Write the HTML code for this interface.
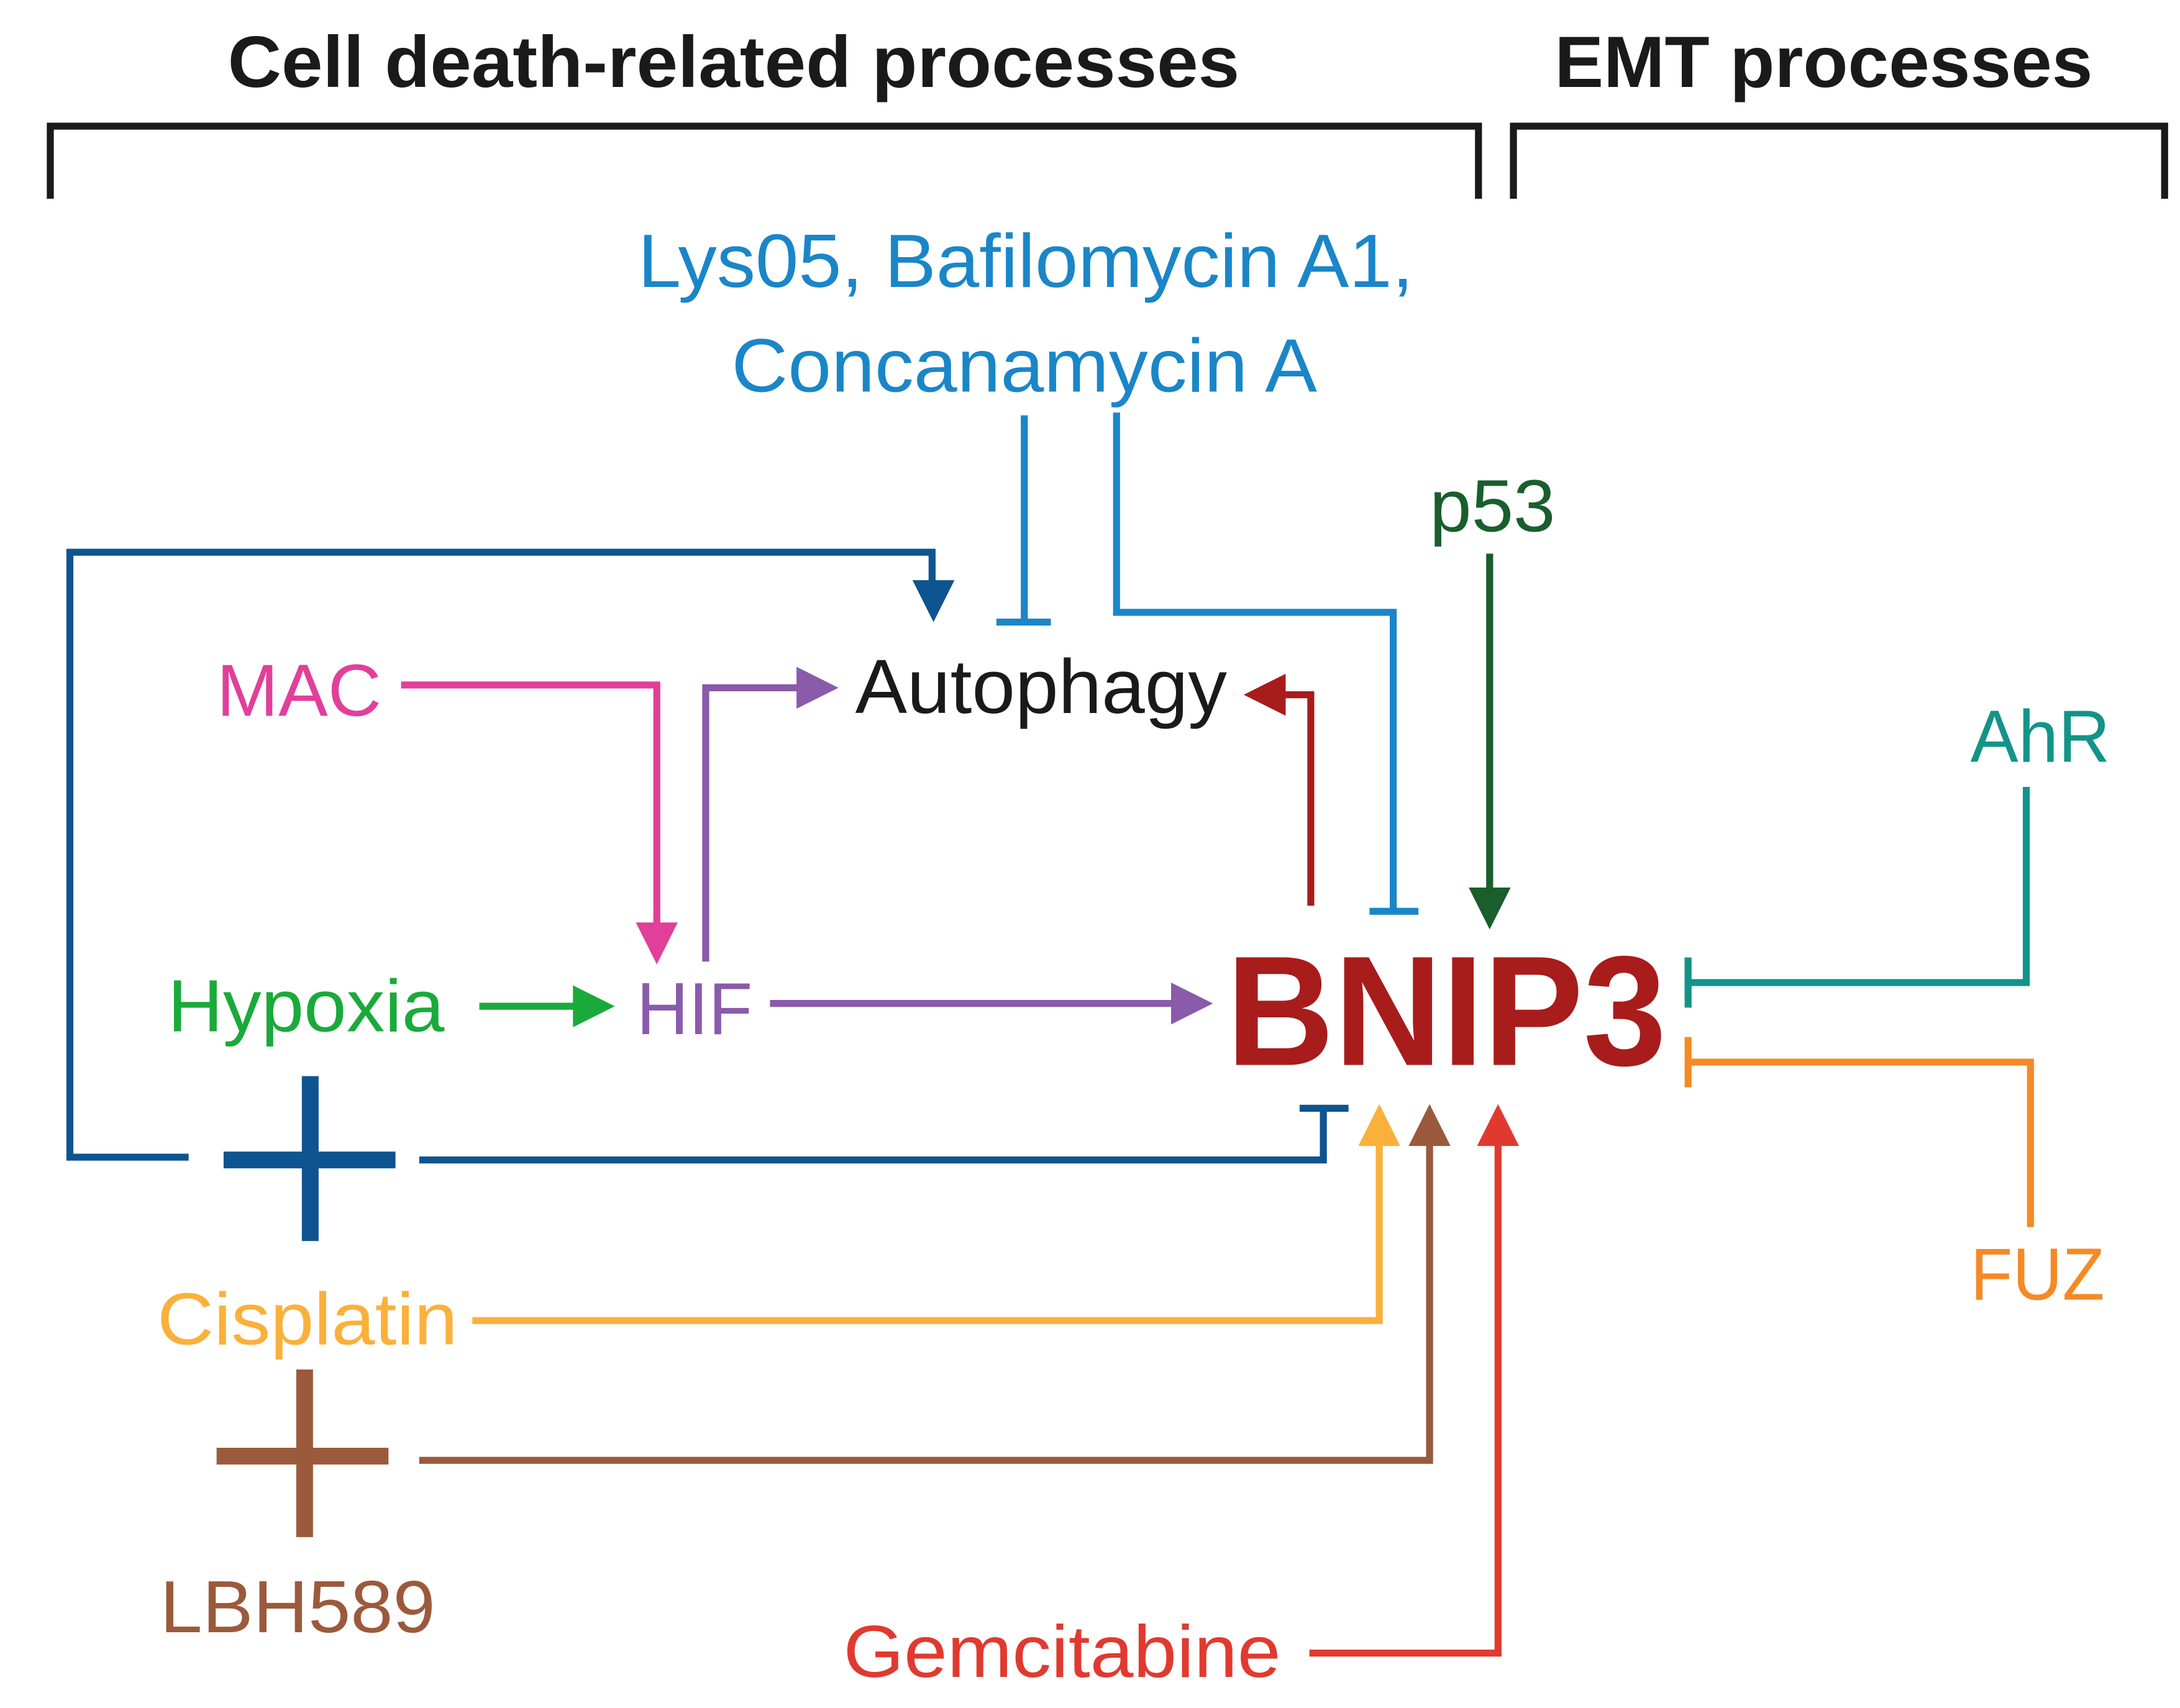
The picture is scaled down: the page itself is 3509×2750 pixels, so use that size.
<!DOCTYPE html>
<html><head><meta charset="utf-8"><style>
html,body{margin:0;padding:0;background:#fff;}
svg{display:block;}
text{font-family:"Liberation Sans",sans-serif;}
</style></head><body>
<svg width="3509" height="2750" viewBox="0 0 1560 1222" xmlns="http://www.w3.org/2000/svg">
<rect width="1560" height="1222" fill="#fff"/>
<g fill="none" stroke-linejoin="miter">
<path d="M36 142 V90 H1058 V142" stroke="#1a1a1a" stroke-width="5"/>
<path d="M1083 142 V90 H1549 V142" stroke="#1a1a1a" stroke-width="5"/>
<path d="M733 297 V445 M713 445 H752" stroke="#1a86c8" stroke-width="5"/>
<path d="M799 295 V438 H997 V652 M980 652 H1015" stroke="#1a86c8" stroke-width="5"/>
<path d="M1066 396 V640" stroke="#1a5e2e" stroke-width="5"/>
<path d="M135 828 H50 V395 H667 V420" stroke="#0e5490" stroke-width="5"/>
<path d="M222 770 V888 M160 830 H283" stroke="#0e5490" stroke-width="12"/>
<path d="M300 830 H947 V793 M930 793 H965" stroke="#0e5490" stroke-width="5"/>
<path d="M287 490 H470 V665" stroke="#e0409a" stroke-width="5"/>
<path d="M505 688 V492 H575" stroke="#8a5aab" stroke-width="5"/>
<path d="M551 718 H842" stroke="#8a5aab" stroke-width="5"/>
<path d="M343 720 H415" stroke="#1aaa3a" stroke-width="5"/>
<path d="M938 648 V497 H915" stroke="#a81c1c" stroke-width="5"/>
<path d="M1450 563 V703 H1208 M1208 685 V721" stroke="#139488" stroke-width="5"/>
<path d="M1453 878 V760 H1208 M1208 742 V778" stroke="#f58a25" stroke-width="5"/>
<path d="M338 945 H987 V815" stroke="#fbb03b" stroke-width="5"/>
<path d="M218 980 V1100 M155 1042 H278" stroke="#9b5a3c" stroke-width="12"/>
<path d="M300 1045 H1023 V815" stroke="#9b5a3c" stroke-width="5"/>
<path d="M937 1183 H1072 V815" stroke="#e03a30" stroke-width="5"/>
</g>
<polygon points="653,415 683,415 668,445" fill="#0e5490"/>
<polygon points="1051,635 1081,635 1066,665" fill="#1a5e2e"/>
<polygon points="455,660 485,660 470,690" fill="#e0409a"/>
<polygon points="570,477 570,507 600,492" fill="#8a5aab"/>
<polygon points="838,703 838,733 868,718" fill="#8a5aab"/>
<polygon points="410,705 410,735 440,720" fill="#1aaa3a"/>
<polygon points="920,482 920,512 890,497" fill="#a81c1c"/>
<polygon points="972,820 1002,820 987,790" fill="#fbb03b"/>
<polygon points="1008,820 1038,820 1023,790" fill="#9b5a3c"/>
<polygon points="1057,820 1087,820 1072,790" fill="#e03a30"/>
<g text-anchor="middle" lengthAdjust="spacingAndGlyphs">
<text x="525" y="62" font-size="52" font-weight="bold" fill="#1a1a1a" textLength="724" lengthAdjust="spacingAndGlyphs">Cell death-related processes</text>
<text x="1305" y="62" font-size="52" font-weight="bold" fill="#1a1a1a" textLength="385" lengthAdjust="spacingAndGlyphs">EMT processes</text>
<text x="734" y="205" font-size="54" fill="#1a86c8" textLength="555" lengthAdjust="spacingAndGlyphs">Lys05, Bafilomycin A1,</text>
<text x="733" y="280" font-size="54" fill="#1a86c8" textLength="419" lengthAdjust="spacingAndGlyphs">Concanamycin A</text>
<text x="1068" y="380" font-size="53" fill="#1a5e2e" textLength="90" lengthAdjust="spacingAndGlyphs">p53</text>
<text x="214" y="512" font-size="53" fill="#e0409a" textLength="118" lengthAdjust="spacingAndGlyphs">MAC</text>
<text x="745" y="510" font-size="55" fill="#1a1a1a" textLength="266" lengthAdjust="spacingAndGlyphs">Autophagy</text>
<text x="497" y="740" font-size="53" fill="#8a5aab" textLength="83" lengthAdjust="spacingAndGlyphs">HIF</text>
<text x="219" y="738" font-size="53" fill="#1aaa3a" textLength="198" lengthAdjust="spacingAndGlyphs">Hypoxia</text>
<text x="1035" y="762" font-size="112" font-weight="bold" fill="#a81c1c" textLength="315" lengthAdjust="spacingAndGlyphs">BNIP3</text>
<text x="1460" y="545" font-size="53" fill="#139488" textLength="100" lengthAdjust="spacingAndGlyphs">AhR</text>
<text x="1458" y="930" font-size="53" fill="#f58a25" textLength="96" lengthAdjust="spacingAndGlyphs">FUZ</text>
<text x="220" y="962" font-size="53" fill="#fbb03b" textLength="215" lengthAdjust="spacingAndGlyphs">Cisplatin</text>
<text x="213" y="1168" font-size="53" fill="#9b5a3c" textLength="197" lengthAdjust="spacingAndGlyphs">LBH589</text>
<text x="760" y="1200" font-size="53" fill="#e03a30" textLength="313" lengthAdjust="spacingAndGlyphs">Gemcitabine</text>
</g>
</svg>
</body></html>
